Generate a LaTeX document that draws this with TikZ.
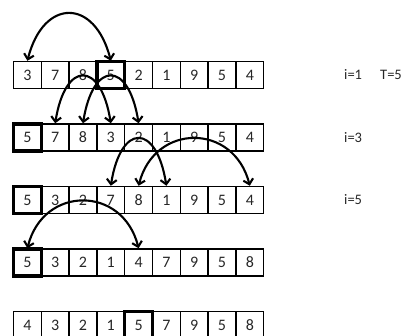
\documentclass[tikz,border=0pt]{standalone}
\usepackage{fontspec}
\setmainfont{Carlito}
\usetikzlibrary{arrows.meta}
\begin{document}
\begin{tikzpicture}[x=1pt,y=1pt,
  cell/.style={draw=black,line width=1.5pt,minimum width=27.8pt,minimum height=27pt,
    inner sep=0pt,font=\fontsize{16}{17}\selectfont,text=black!85},
  boldcell/.style={draw=black,line width=3.2pt,minimum width=27.8pt,minimum height=27pt,
    inner sep=0pt},
  lbl/.style={font=\fontsize{14.5}{15}\selectfont,anchor=west,inner sep=0pt,text=black!85},
  swap/.style={line width=2.1pt,{Straight Barb[length=5pt,width=10pt]}-{Straight Barb[length=5pt,width=10pt]}}]
\useasboundingbox (0,0) rectangle (406,-335);
\foreach \r/\py/\vals/\b in {1/75/{3,7,8,5,2,1,9,5,4}/3,
                             2/137.5/{5,7,8,3,2,1,9,5,4}/0,
                             3/200/{5,3,2,7,8,1,9,5,4}/0,
                             4/262.5/{5,3,2,1,4,7,9,5,8}/0,
                             5/325/{4,3,2,1,5,7,9,5,8}/4}{
  \foreach \v [count=\k from 0] in \vals {
    \node[cell] (r\r c\k) at ({13.5+(\k+0.5)*27.8},-\py) {\v};
  }
  \node[boldcell] (b\r) at ({13.5+(\b+0.5)*27.8},-\py) {};
}
\node[lbl] (l1) at (344,-75) {i=1};
\node[lbl] (t1) at (380,-75) {T=5};
\node[lbl] (l3) at (344,-137.5) {i=3};
\node[lbl] (l5) at (344,-200) {i=5};
% arcs
\draw[swap] (r1c0.north) .. controls +(16,63) and +(-16,63) .. (r1c3.north);
\draw[swap] (r2c1.north) .. controls +(10,63) and +(-10,63) .. (r2c3.north);
\draw[swap] (r2c2.north) .. controls +(10,63) and +(-10,63) .. (r2c4.north);
\draw[swap] (r3c3.north) .. controls +(10,63) and +(-10,63) .. (r3c5.north);
\draw[swap] (r3c4.north) .. controls +(16,63) and +(-16,63) .. (r3c8.north);
\draw[swap] (r4c0.north) .. controls +(16,63) and +(-16,63) .. (r4c4.north);
\end{tikzpicture}
\end{document}
